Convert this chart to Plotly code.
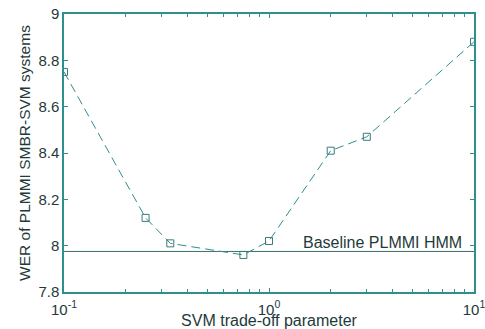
import plotly.graph_objects as go

svm_c = [0.1, 0.25, 0.33, 0.75, 1.0, 2.0, 3.0, 10.0]
wer = [8.75, 8.12, 8.01, 7.96, 8.02, 8.41, 8.47, 8.88]
baseline_wer = 7.975
baseline_label = "Baseline PLMMI HMM"
y_ticks = [7.8, 8.0, 8.2, 8.4, 8.6, 8.8, 9.0]
y_ticktext = ["7.8", "8", "8.2", "8.4", "8.6", "8.8", "9"]
x_ticks = [0.1, 1, 10]
x_ticktext = ["10<sup>-1</sup>", "10<sup>0</sup>", "10<sup>1</sup>"]
x_minor = [0.2, 0.3, 0.4, 0.5, 0.6, 0.7, 0.8, 0.9, 2, 3, 4, 5, 6, 7, 8, 9]

line_col = "#2f8e8e"
text_col = "#1e3a3a"
font = "Liberation Sans, Arial, sans-serif"

fig = go.Figure()
fig.add_trace(go.Scatter(
    x=[x_ticks[0], x_ticks[-1]], y=[baseline_wer, baseline_wer], mode="lines",
    line=dict(color="#3c6e6e", width=1), showlegend=False, hoverinfo="skip"))
fig.add_trace(go.Scatter(
    x=svm_c, y=wer, mode="lines+markers",
    line=dict(color=line_col, width=1, dash="9px,5px"),
    marker=dict(symbol="square-open", size=7, color="#3a7a7a", line=dict(width=1)),
    showlegend=False))

fig.add_annotation(x=1, xref="paper", y=baseline_wer, yref="y",
                   text=baseline_label, showarrow=False,
                   xanchor="right", yanchor="bottom", xshift=-10, yshift=-2,
                   font=dict(size=16, color=text_col, family=font))

fig.update_xaxes(type="log", range=[-1, 1], tickvals=x_ticks, ticktext=x_ticktext,
                 ticks="inside", ticklen=4, tickcolor=line_col, automargin=False,
                 ticklabelstandoff=3, ticklabeloverflow="allow",
                 minor=dict(tickvals=x_minor, ticks="inside", ticklen=3, tickcolor=line_col),
                 showline=True, linecolor=line_col, linewidth=1.5, mirror="ticks",
                 showgrid=False, zeroline=False,
                 tickfont=dict(size=15, color=text_col, family=font),
                 title=dict(text="SVM trade-off parameter", standoff=0,
                            font=dict(size=16, color=text_col, family=font)))
fig.update_yaxes(range=[7.8, 9.0], tickvals=y_ticks, ticktext=y_ticktext,
                 ticks="inside", ticklen=4, tickcolor=line_col, automargin=False,
                 showline=True, linecolor=line_col, linewidth=1.5, mirror="ticks",
                 showgrid=False, zeroline=False,
                 tickfont=dict(size=15, color=text_col, family=font),
                 title=dict(text="WER of PLMMI SMBR-SVM systems", standoff=4,
                            font=dict(size=15.5, color=text_col, family=font)))

fig.update_layout(width=485, height=329, margin=dict(l=64, r=11, t=14, b=37),
                  paper_bgcolor="white", plot_bgcolor="white",
                  font=dict(family=font, color=text_col))
fig.write_html("out.html", config={"displayModeBar": False},
               post_script="document.body.style.margin='0px';")
